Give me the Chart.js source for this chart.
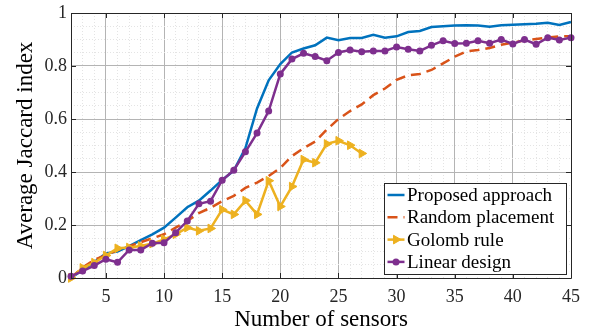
<!DOCTYPE html>
<html><head><meta charset="utf-8">
<script src="https://cdn.jsdelivr.net/npm/chart.js@4"></script>
<style>html,body{margin:0;padding:0;background:#fff}canvas{display:block}</style>
</head><body>
<canvas id="c" width="590" height="335"></canvas>
<script>
// ---- data ----
const sensors = [2,3,4,5,6,7,8,9,10,11,12,13,14,15,16,17,18,19,20,21,22,23,24,25,26,27,28,29,30,31,32,33,34,35,36,37,38,39,40,41,42,43,44,45];
const golombSensors = [2,3,4,5,6,7,8,9,10,11,12,13,14,15,16,17,18,19,20,21,22,23,24,25,26,27];
const proposed = [0,0.03,0.06,0.093,0.10,0.12,0.143,0.165,0.19,0.228,0.267,0.292,0.33,0.37,0.405,0.49,0.64,0.746,0.807,0.851,0.866,0.878,0.907,0.897,0.906,0.906,0.918,0.907,0.912,0.928,0.932,0.947,0.95,0.953,0.954,0.953,0.948,0.954,0.956,0.958,0.959,0.963,0.955,0.966];
const randomPlacement = [0,0.04,0.068,0.087,0.105,0.12,0.135,0.15,0.165,0.19,0.215,0.245,0.265,0.29,0.31,0.34,0.36,0.385,0.415,0.46,0.49,0.515,0.56,0.60,0.63,0.655,0.69,0.715,0.748,0.765,0.77,0.785,0.81,0.835,0.855,0.86,0.868,0.88,0.888,0.897,0.902,0.907,0.912,0.912];
const golomb = [0,0.038,0.058,0.085,0.112,0.115,0.121,0.13,0.146,0.165,0.19,0.178,0.187,0.258,0.24,0.292,0.24,0.367,0.27,0.345,0.447,0.435,0.506,0.518,0.501,0.47];
const linearDesign = [0.007,0.026,0.047,0.071,0.059,0.106,0.106,0.131,0.133,0.171,0.215,0.28,0.29,0.369,0.407,0.476,0.547,0.63,0.77,0.826,0.848,0.836,0.82,0.851,0.86,0.854,0.857,0.857,0.872,0.863,0.857,0.878,0.895,0.885,0.886,0.895,0.886,0.90,0.883,0.90,0.882,0.907,0.898,0.907];
const seriesNames = ['Proposed approach','Random placement','Golomb rule','Linear design'];
const xTickLabels = [5,10,15,20,25,30,35,40,45];
const yTickValues = [0,0.2,0.4,0.6,0.8,1];
const yTickLabels = ['0','0.2','0.4','0.6','0.8','1'];
const xAxisTitle = 'Number of sensors';
const yAxisTitle = 'Average Jaccard index';

// ---- styles ----
const FONT = "'Liberation Serif','Times New Roman',serif";
const AXIS = '#262626';
const toXY = (xs, ys) => xs.map((x, i) => ({x, y: ys[i]}));
const yIdx = v => yTickValues.findIndex(t => Math.abs(t - v) < 1e-6);
const isMajorX = v => xTickLabels.includes(Math.round(v)) && Math.abs(v - Math.round(v)) < 1e-6;

const framePlugin = {
  id: 'frame',
  afterDatasetsDraw(chart) {
    const {ctx, chartArea: a, scales} = chart;
    ctx.save();
    ctx.strokeStyle = AXIS; ctx.lineWidth = 1;
    ctx.beginPath();
    ctx.rect(Math.round(a.left)+0.5, Math.round(a.top)+0.5, Math.round(a.right)-Math.round(a.left), Math.round(a.bottom)-Math.round(a.top));
    ctx.stroke();
    const tl = 5;
    ctx.beginPath();
    xTickLabels.forEach(v => {
      const px = Math.round(scales.x.getPixelForValue(v)) + 0.5;
      ctx.moveTo(px, a.bottom); ctx.lineTo(px, a.bottom - tl);
      ctx.moveTo(px, a.top); ctx.lineTo(px, a.top + tl);
    });
    yTickValues.forEach(v => {
      const py = Math.round(scales.y.getPixelForValue(v)) + 0.5;
      ctx.moveTo(a.left, py); ctx.lineTo(a.left + tl, py);
      ctx.moveTo(a.right, py); ctx.lineTo(a.right - tl, py);
    });
    ctx.stroke();
    ctx.restore();
  },
  afterDraw(chart) {
    const {ctx, chartArea: a} = chart;
    const w = 182, h = 91, rowH = 22.3;
    const x0 = Math.round(a.right - 5 - w) + 0.5, y0 = Math.round(a.bottom - 4 - h) + 0.5;
    ctx.save();
    ctx.fillStyle = '#fff'; ctx.strokeStyle = AXIS; ctx.lineWidth = 1;
    ctx.fillRect(x0, y0, w, h); ctx.strokeRect(x0, y0, w, h);
    chart.data.datasets.forEach((ds, i) => {
      const cy = y0 + 11.5 + i * rowH;
      ctx.strokeStyle = ds.borderColor; ctx.lineWidth = ds.borderWidth;
      ctx.setLineDash(ds.borderDash || []);
      ctx.beginPath(); ctx.moveTo(x0 + 3, cy); ctx.lineTo(x0 + 20, cy); ctx.stroke();
      ctx.setLineDash([]);
      const mx = x0 + 11.5;
      if (ds.pointStyle === 'circle' && ds.pointRadius > 0) {
        ctx.fillStyle = ds.borderColor;
        ctx.beginPath(); ctx.arc(mx, cy, ds.pointRadius, 0, Math.PI*2); ctx.fill();
      } else if (ds.pointStyle === 'triangle' && ds.pointRadius > 0) {
        ctx.fillStyle = ds.borderColor; ctx.strokeStyle = ds.borderColor; ctx.lineWidth = 1;
        Chart.helpers.drawPoint(ctx, {pointStyle:'triangle', rotation: ds.pointRotation, radius: ds.pointRadius, borderWidth: 1}, mx, cy);
      }
      ctx.fillStyle = '#000';
      ctx.font = `19px ${FONT}`;
      ctx.textBaseline = 'middle';
      ctx.fillText(ds.label, x0 + 22.5, cy + 1);
    });
    ctx.restore();
  }
};

new Chart(document.getElementById('c'), {
  type: 'line',
  data: {
    datasets: [
      {label: seriesNames[0], data: toXY(sensors, proposed), borderColor: '#0072BD', backgroundColor: '#0072BD', borderWidth: 2.5, pointRadius: 0, order: 4, clip: false},
      {label: seriesNames[1], data: toXY(sensors, randomPlacement), borderColor: '#D95319', backgroundColor: '#D95319', borderWidth: 2.5, borderDash: [10, 6], pointRadius: 0, order: 3, clip: false},
      {label: seriesNames[2], data: toXY(golombSensors, golomb), borderColor: '#EDB120', backgroundColor: '#EDB120', borderWidth: 2.5, pointStyle: 'triangle', pointRotation: 90, pointRadius: 5, pointBorderWidth: 1, order: 2, clip: false},
      {label: seriesNames[3], data: toXY(sensors, linearDesign), borderColor: '#7E2F8E', backgroundColor: '#7E2F8E', borderWidth: 2.5, pointStyle: 'circle', pointRadius: 3.5, pointBorderWidth: 0, order: 1, clip: false}
    ]
  },
  options: {
    responsive: false, animation: false, devicePixelRatio: 1,
    layout: {padding: {top: 10, right: 19, left: 0, bottom: 0}},
    plugins: {legend: {display: false}, tooltip: {enabled: false}},
    elements: {line: {tension: 0}},
    scales: {
      x: {
        type: 'linear', min: 2, max: 45,
        afterFit: s => { s.height = 57; },
        ticks: {stepSize: 1, autoSkip: false, maxRotation: 0, padding: 10, color: AXIS,
          font: {family: FONT, size: 18, lineHeight: 1},
          callback: v => isMajorX(v) ? String(Math.round(v)) : ''},
        grid: {drawTicks: false, lineWidth: 1,
          color: c => (c.tick && isMajorX(c.tick.value)) ? '#b4b4b4' : '#e4e4e4'},
        border: {display: false, dash: c => (c.tick && !isMajorX(c.tick.value)) ? [1, 2] : []},
        title: {display: true, text: xAxisTitle, color: '#000', font: {family: FONT, size: 23, lineHeight: 1.2}, padding: {top: 0, bottom: 1}}
      },
      y: {
        type: 'linear', min: 0, max: 1,
        afterFit: s => { s.width = 71; },
        ticks: {stepSize: 0.05, autoSkip: false, padding: 4, color: AXIS,
          font: {family: FONT, size: 18, lineHeight: 1},
          callback: v => { const i = yIdx(v); return i >= 0 ? yTickLabels[i] : ''; }},
        grid: {drawTicks: false, lineWidth: 1,
          color: c => (c.tick && yIdx(c.tick.value) >= 0) ? '#b4b4b4' : '#e4e4e4'},
        border: {display: false, dash: c => (c.tick && yIdx(c.tick.value) < 0) ? [1, 2] : []},
        title: {display: true, text: yAxisTitle, color: '#000', font: {family: FONT, size: 23, lineHeight: 1.2}, padding: {top: 12, bottom: 0}}
      }
    }
  },
  plugins: [framePlugin]
});
</script>
</body></html>
